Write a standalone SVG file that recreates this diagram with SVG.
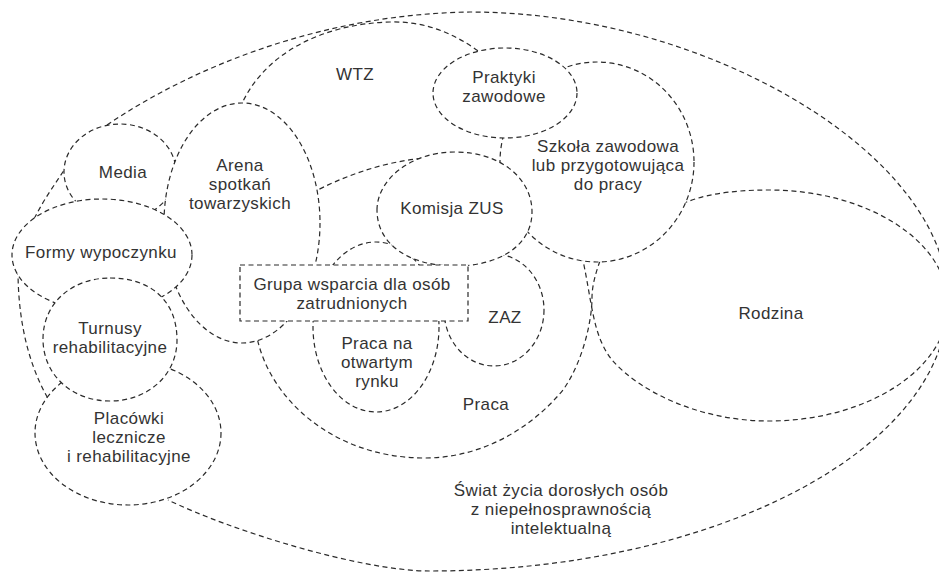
<svg xmlns="http://www.w3.org/2000/svg" width="939" height="573" viewBox="0 0 939 573">
<style>
.d{fill:none;stroke:#2a2a2a;stroke-width:1.2;stroke-dasharray:5 3.5}
.n{fill:#fff;stroke:#2a2a2a;stroke-width:1.2;stroke-dasharray:5 3.5}
text{font-family:"Liberation Sans",Arial,sans-serif;font-size:17px;letter-spacing:0.4px;fill:#333;text-anchor:middle}
</style>
<rect width="939" height="573" fill="#fff"/>
<g id="swiat">
<path class="d" d="M107,125 C200,62 330,14 470,12 C709,12 948,156 948,300 C948,449 715,571 430,571 C360,571 230,530 168,500"/>
<path class="d" d="M68,164 C55,185 42,200 28,232"/>
<path class="d" d="M18,270 C18,320 28,365 50,402"/>
<text x="561" y="496">Świat życia dorosłych osób</text>
<text x="561" y="515">z niepełnosprawnością</text>
<text x="561" y="534">intelektualną</text>
</g>
<g id="wtz">
<path class="d" d="M240,108 C262,55 320,24 390,22 C425,21 455,33 485,56"/>
<path class="d" d="M312,193 C340,178 380,162 425,158"/>
<text x="355" y="80">WTZ</text>
</g>
<g id="rodzina">
<path class="d" d="M582,256 C592,300 592,335 612,360 C640,392 700,421 769,421 C867,421 948,369 948,305 C948,241 867,190 769,190 C730,190 700,195 680,205"/>
<text x="771" y="319">Rodzina</text>
</g>
<g id="praca">
<path class="d" d="M256,332 C266,395 330,458 425,458 C480,458 530,430 563,390 C583,362 592,320 592,298 C592,285 596,272 601,258"/>
<text x="486" y="410">Praca</text>
</g>
<g id="media">
<ellipse class="n" cx="120" cy="172" rx="56" ry="48"/>
<text x="123" y="178">Media</text>
</g>
<g id="arena">
<ellipse class="n" cx="242" cy="223" rx="78" ry="120"/>
<text x="240" y="171">Arena</text>
<text x="240" y="190">spotkań</text>
<text x="240" y="209">towarzyskich</text>
</g>
<g id="formy">
<ellipse class="n" cx="102" cy="255" rx="90" ry="56"/>
<text x="101" y="258">Formy wypoczynku</text>
</g>
<g id="placowki">
<ellipse class="n" cx="128" cy="433" rx="93" ry="72"/>
<text x="129" y="424">Placówki</text>
<text x="129" y="443">lecznicze</text>
<text x="129" y="462">i rehabilitacyjne</text>
</g>
<g id="turnusy">
<path class="n" d="M110,278 C150,278 177,300 177,340 C177,375 148,401 110,401 C72,401 43,375 43,339 C43,303 72,278 110,278 Z"/>
<text x="110" y="334">Turnusy</text>
<text x="110" y="353">rehabilitacyjne</text>
</g>
<g id="szkola">
<ellipse class="n" cx="597" cy="162" rx="97" ry="100"/>
<text x="608" y="152">Szkoła zawodowa</text>
<text x="608" y="171">lub przygotowująca</text>
<text x="608" y="190">do pracy</text>
</g>
<g id="praktyki">
<ellipse class="n" cx="505" cy="93" rx="72" ry="45"/>
<text x="504" y="83">Praktyki</text>
<text x="504" y="102">zawodowe</text>
</g>
<g id="zaz">
<ellipse class="n" cx="494" cy="310" rx="50" ry="56"/>
<text x="505" y="323">ZAZ</text>
</g>
<g id="praca-otwarty">
<ellipse class="n" cx="376" cy="327" rx="63" ry="85"/>
<text x="377" y="349">Praca na</text>
<text x="377" y="368">otwartym</text>
<text x="377" y="387">rynku</text>
</g>
<g id="komisja">
<path class="n" d="M377,210 C377,180 410,152 455,152 C500,152 532,178 532,212 C532,245 500,266 455,266 C410,266 377,245 377,210 Z"/>
<text x="452" y="214">Komisja ZUS</text>
</g>
<g id="grupa">
<rect class="n" x="240" y="265" width="228" height="56"/>
<text x="352" y="290">Grupa wsparcia dla osób</text>
<text x="352" y="309">zatrudnionych</text>
</g>
<g id="connectors"></g>
</svg>
